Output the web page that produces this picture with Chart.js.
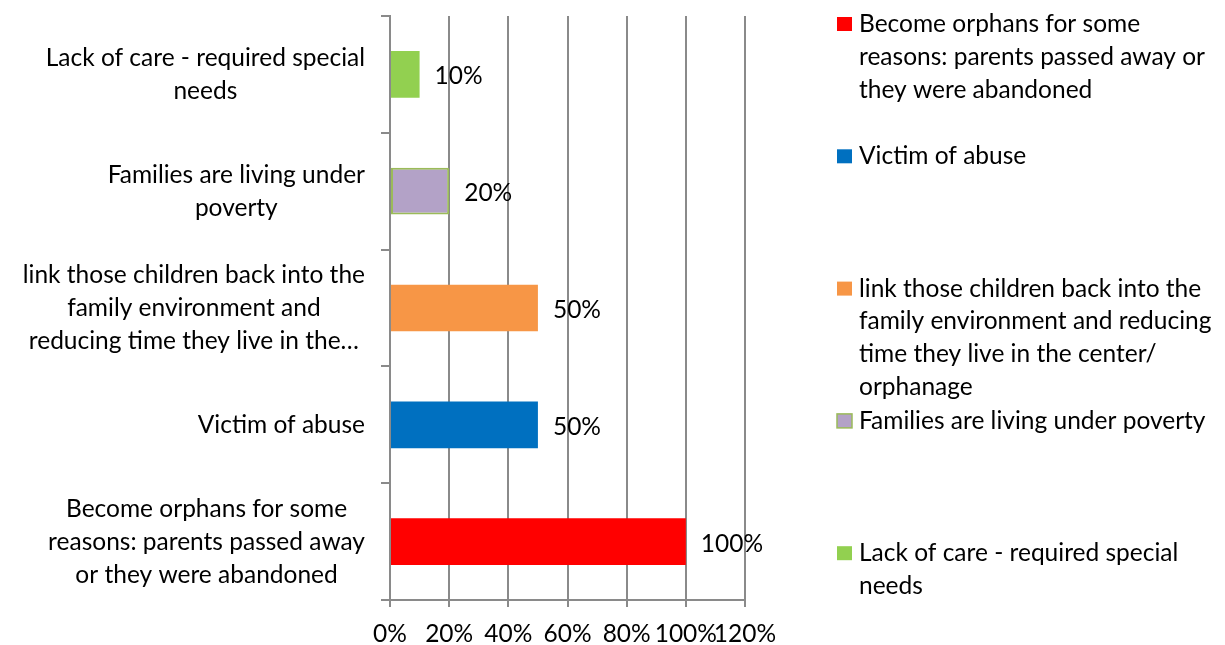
<!DOCTYPE html>
<html>
<head>
<meta charset="utf-8">
<script src="https://cdn.jsdelivr.net/npm/chart.js@4.4.1/dist/chart.umd.min.js"></script>
<style>
  html, body { margin: 0; padding: 0; background: #fff; }
  #wrap { width: 1225px; height: 645px; position: relative; }
</style>
</head>
<body>
<div id="wrap"><canvas id="reasonsChart"></canvas></div>
<script>
// Reasons children end up in care (share of respondents)
const categories = [
    'Lack of care - required special needs',
    'Families are living under poverty',
    'link those children back into the family environment and reducing time they live in the center/ orphanage',
    'Victim of abuse',
    'Become orphans for some reasons: parents passed away or they were abandoned'
];
const values = [10, 20, 50, 50, 100];
const barColors = ['#92D050', '#B3A2C7', '#F79646', '#0070C0', '#FF0000'];
const barBorders = ['#92D050', '#9BBB59', '#F79646', '#0070C0', '#FF0000'];
const borderWidths = [0, 2, 0, 0, 0];

// wrapped axis labels (same order as categories)
const tickLines = [
    ['Lack of care - required special', 'needs'],
    ['Families are living under', 'poverty'],
    ['link those children back into the', 'family environment and', 'reducing time they live in the\u2026'],
    ['Victim of abuse'],
    ['Become orphans for some', 'reasons: parents passed away', 'or they were abandoned']
];
// wrapped legend text (same order as categories)
const legendLines = [
    ['Lack of care - required special', 'needs'],
    ['Families are living under poverty'],
    ['link those children back into the', 'family environment and reducing', 'time they live in the center/', 'orphanage'],
    ['Victim of abuse'],
    ['Become orphans for some', 'reasons: parents passed away or', 'they were abandoned']
];
const xTicks = [0, 20, 40, 60, 80, 100, 120];

const FAMILY = 'Lato, "Liberation Sans", sans-serif';
const SIZE = 24.5;
const FONT = SIZE + 'px ' + FAMILY;
const LINE_H = 33;
const GRID = '#8a8a8a';

// value labels to the right of each bar
const valueLabels = {
    id: 'valueLabels',
    afterDatasetsDraw(chart) {
        const ctx = chart.ctx;
        const meta = chart.getDatasetMeta(0);
        ctx.save();
        ctx.font = FONT;
        ctx.fillStyle = '#000';
        ctx.textAlign = 'left';
        ctx.textBaseline = 'middle';
        meta.data.forEach((bar, i) => {
            ctx.fillText(values[i] + '%', bar.x + 15, bar.y + 2);
        });
        ctx.restore();
    }
};

// category labels: each block right aligned to the axis, lines centred in the block
const categoryLabels = {
    id: 'categoryLabels',
    afterDraw(chart) {
        const ctx = chart.ctx;
        const y = chart.scales.y;
        const right = chart.chartArea.left - 25;
        ctx.save();
        ctx.font = FONT;
        ctx.fillStyle = '#000';
        ctx.textAlign = 'center';
        ctx.textBaseline = 'middle';
        tickLines.forEach((lines, i) => {
            const w = Math.max(...lines.map(l => ctx.measureText(l).width));
            const cx = right - w / 2;
            const cy = y.getPixelForTick(i);
            const top = cy - (lines.length - 1) * LINE_H / 2;
            lines.forEach((l, k) => ctx.fillText(l, cx, top + k * LINE_H));
        });
        ctx.restore();
    }
};

// legend on the right, listed bottom bar first
const sideLegend = {
    id: 'sideLegend',
    afterDraw(chart) {
        const ctx = chart.ctx;
        const x0 = 837, textX = 859, top = 24, step = 132.3;
        ctx.save();
        ctx.font = FONT;
        ctx.textAlign = 'left';
        ctx.textBaseline = 'middle';
        const order = categories.map((_, i) => i).reverse();
        order.forEach((idx, slot) => {
            const y0 = top + slot * step;
            ctx.fillStyle = barColors[idx];
            ctx.fillRect(x0, y0 - 7, 15, 14);
            if (borderWidths[idx]) {
                ctx.strokeStyle = barBorders[idx];
                ctx.lineWidth = 1.5;
                ctx.strokeRect(x0, y0 - 7, 15, 14);
            }
            ctx.fillStyle = '#000';
            legendLines[idx].forEach((l, k) => ctx.fillText(l, textX, y0 + k * 32.8));
        });
        ctx.restore();
    }
};

new Chart(document.getElementById('reasonsChart'), {
    type: 'bar',
    data: {
        labels: categories,
        datasets: [{
            data: values,
            backgroundColor: barColors,
            borderColor: barBorders,
            borderWidth: borderWidths,
            borderSkipped: false,
            categoryPercentage: 0.8,
            barPercentage: 0.5
        }]
    },
    options: {
        indexAxis: 'y',
        responsive: true,
        maintainAspectRatio: false,
        animation: false,
        layout: { padding: { top: 16, right: 480, left: 0, bottom: 0 } },
        plugins: { legend: { display: false }, tooltip: { enabled: false } },
        scales: {
            x: {
                min: 0,
                max: 120,
                afterBuildTicks(scale) { scale.ticks = xTicks.map(v => ({ value: v })); },
                afterFit(scale) { scale.height = 45; },
                ticks: {
                    callback: v => v + '%',
                    color: '#000',
                    font: { family: FAMILY, size: SIZE },
                    padding: 12,
                    maxRotation: 0,
                    autoSkip: false
                },
                grid: { color: GRID, lineWidth: 2, tickLength: 7 },
                border: { color: GRID, width: 2 }
            },
            y: {
                afterFit(scale) { scale.width = 390; },
                ticks: { display: false },
                grid: { offset: true, drawOnChartArea: false, color: GRID, lineWidth: 2, tickLength: 9 },
                border: { color: GRID, width: 2 }
            }
        }
    },
    plugins: [valueLabels, categoryLabels, sideLegend]
});
</script>
</body>
</html>
